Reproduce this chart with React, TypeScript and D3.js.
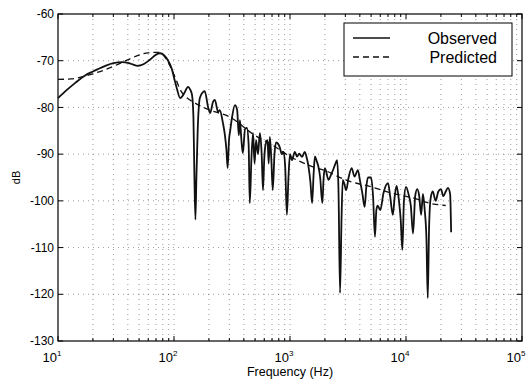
import React from "react";
import * as d3 from "d3";

const obsFreq = [10,12,14,17,20,25,30,36,42,49,55,62,70,76,82,88,95,101,106,113,118,124,132,138,143,147,150,153,156,160,167,178,184,197,205,217,225,240,248,264,275,283,290,298,305,317,335,350,362,370,380,392,410,425,440,450,465,480,495,510,530,550,570,585,600,615,640,655,670,690,710,735,760,790,815,850,880,910,940,970,1000,1040,1100,1150,1200,1270,1340,1400,1440,1500,1550,1600,1640,1700,1750,1820,1900,1950,2000,2150,2250,2350,2450,2550,2620,2700,2780,2850,2950,3050,3200,3400,3600,3850,4000,4200,4400,4550,4700,5000,5200,5400,5550,5700,6000,6400,7000,7300,7700,8000,8300,8700,9000,9300,9600,10000,10500,11000,11500,12000,12500,13000,13500,14000,14500,15000,15400,15800,16300,17000,18000,19000,20000,21000,22000,23000,24000,24500];
const obsDb = [-78,-76.2,-74.8,-73.2,-72.3,-71.2,-70.5,-70.3,-70.6,-71.1,-70.7,-69.8,-68.7,-68.4,-68.8,-69.8,-71.5,-74,-76,-78,-77.6,-76.7,-75.6,-76.2,-77.3,-82,-95,-104,-95,-85,-78,-76.7,-76.5,-80,-81.2,-78.8,-78.4,-81,-80.6,-83.3,-86,-89,-93,-87,-85,-82,-79.5,-80.5,-86,-82.7,-86.5,-89.8,-84.6,-84.4,-88,-100.5,-91,-85.5,-92,-87,-90,-85.5,-90,-97.7,-91,-88,-87,-92,-86.3,-91,-97.7,-90,-87.5,-87.8,-88.5,-90,-89.5,-93,-103,-95,-90,-91.3,-89.5,-90.5,-89.9,-90.6,-89.5,-91,-92.5,-96,-100.5,-94,-90.5,-91.5,-92.5,-95,-100.5,-95,-93,-95.5,-94.5,-93.4,-92.2,-91.3,-98,-119.7,-104,-95.5,-96.5,-97.7,-95,-93,-94.8,-93.4,-95.5,-98.3,-101.3,-97,-95,-95,-99,-107.7,-102,-101,-102,-98.3,-96.2,-99,-103,-99,-96.8,-100,-104,-110.5,-100,-97,-98.5,-101,-107,-99,-97.5,-99,-103,-98.5,-102,-108,-120.8,-106,-99.5,-98,-100,-98,-97.5,-99,-98,-97.2,-98.5,-106.7];

const predFreq = [10,13,17,20,25,30,40,50,60,75,85,100,115,130,150,200,300,500,700,1000,1500,2000,3000,5000,8000,12000,16000,22000];
const predDb = [-74,-73.9,-73.3,-72.8,-72,-71.2,-69.8,-68.8,-68.3,-68.2,-69.5,-73,-76.5,-78,-79,-80.5,-82,-86,-88,-90.5,-92.5,-93.5,-95.5,-97,-98.5,-99.5,-100.5,-101];

const yTicks = [-130,-120,-110,-100,-90,-80,-70,-60];
const xDecades = [1,2,3,4,5];
const legendLabels = ["Observed","Predicted"];
const xLabel = "Frequency (Hz)";
const yLabel = "dB";

const L = 58, R = 522, T = 14, B = 341;
const FONT = "'Liberation Sans', Arial, Helvetica, sans-serif";

export default function App() {
  const x = d3.scaleLog().domain([10, 1e5]).range([L, R]);
  const y = d3.scaleLinear().domain([-130, -60]).range([B, T]);

  const minor: number[] = [];
  for (let k = 1; k <= 4; k++) for (let m = 2; m <= 9; m++) minor.push(m * Math.pow(10, k));
  const decades = xDecades.map((e) => Math.pow(10, e));

  const line = d3.line<[number, number]>().x((d) => x(d[0])).y((d) => y(d[1])).curve(d3.curveMonotoneX);
  const obs = line(obsFreq.map((f, i) => [f, obsDb[i]] as [number, number])) || "";
  const pred = line(predFreq.map((f, i) => [f, predDb[i]] as [number, number])) || "";

  const gridStyle = { stroke: "#555", strokeWidth: 0.6, strokeDasharray: "1,4" };

  return (
    <svg width={532} height={380} style={{ position: "absolute", left: 0, top: 0, background: "#fff" }} fontFamily={FONT}>
      <rect x={0} y={0} width={532} height={380} fill="#fff" />
      {[...minor, ...decades.slice(1, 4)].map((f, i) => (
        <line key={"gx" + i} x1={x(f)} x2={x(f)} y1={T} y2={B} {...gridStyle} />
      ))}
      {yTicks.slice(1, -1).map((v, i) => (
        <line key={"gy" + i} x1={L} x2={R} y1={y(v)} y2={y(v)} {...gridStyle} />
      ))}
      {decades.map((f, i) => (
        <g key={"xt" + i}>
          <line x1={x(f)} x2={x(f)} y1={B} y2={B - 5} stroke="#000" />
          <line x1={x(f)} x2={x(f)} y1={T} y2={T + 5} stroke="#000" />
        </g>
      ))}
      {minor.map((f, i) => (
        <g key={"xm" + i}>
          <line x1={x(f)} x2={x(f)} y1={B} y2={B - 3} stroke="#000" />
          <line x1={x(f)} x2={x(f)} y1={T} y2={T + 3} stroke="#000" />
        </g>
      ))}
      {yTicks.map((v, i) => (
        <g key={"yt" + i}>
          <line x1={L} x2={L + 5} y1={y(v)} y2={y(v)} stroke="#000" />
          <line x1={R} x2={R - 5} y1={y(v)} y2={y(v)} stroke="#000" />
        </g>
      ))}
      <rect x={L} y={T} width={R - L} height={B - T} fill="none" stroke="#000" strokeWidth={1.2} />
      {yTicks.map((v, i) => (
        <text key={"yl" + i} x={L - 4} y={y(v)} dy="0.35em" textAnchor="end" fontSize={12}>{String(v)}</text>
      ))}
      {xDecades.map((e, i) => (
        <text key={"xl" + i} x={x(Math.pow(10, e)) - 6} y={362} textAnchor="middle" fontSize={13}>
          10<tspan dy={-6} fontSize={8}>{String(e)}</tspan>
        </text>
      ))}
      <text x={290} y={376} textAnchor="middle" fontSize={12.5}>{xLabel}</text>
      <text transform={`translate(20,${(T + B) / 2}) rotate(-90)`} textAnchor="middle" fontSize={11}>{yLabel}</text>
      <path d={pred} fill="none" stroke="#111" strokeWidth={1.3} strokeDasharray="6,4" />
      <path d={obs} fill="none" stroke="#111" strokeWidth={1.8} strokeLinejoin="round" />
      <rect x={344} y={23} width={168} height={53} fill="#fff" stroke="#000" strokeWidth={1} />
      <line x1={353} x2={390} y1={38} y2={38} stroke="#111" strokeWidth={1.5} />
      <line x1={353} x2={390} y1={57} y2={57} stroke="#111" strokeWidth={1.3} strokeDasharray="6,4" />
      <text x={497} y={44} textAnchor="end" fontSize={16}>{legendLabels[0]}</text>
      <text x={497} y={63} textAnchor="end" fontSize={16}>{legendLabels[1]}</text>
    </svg>
  );
}
